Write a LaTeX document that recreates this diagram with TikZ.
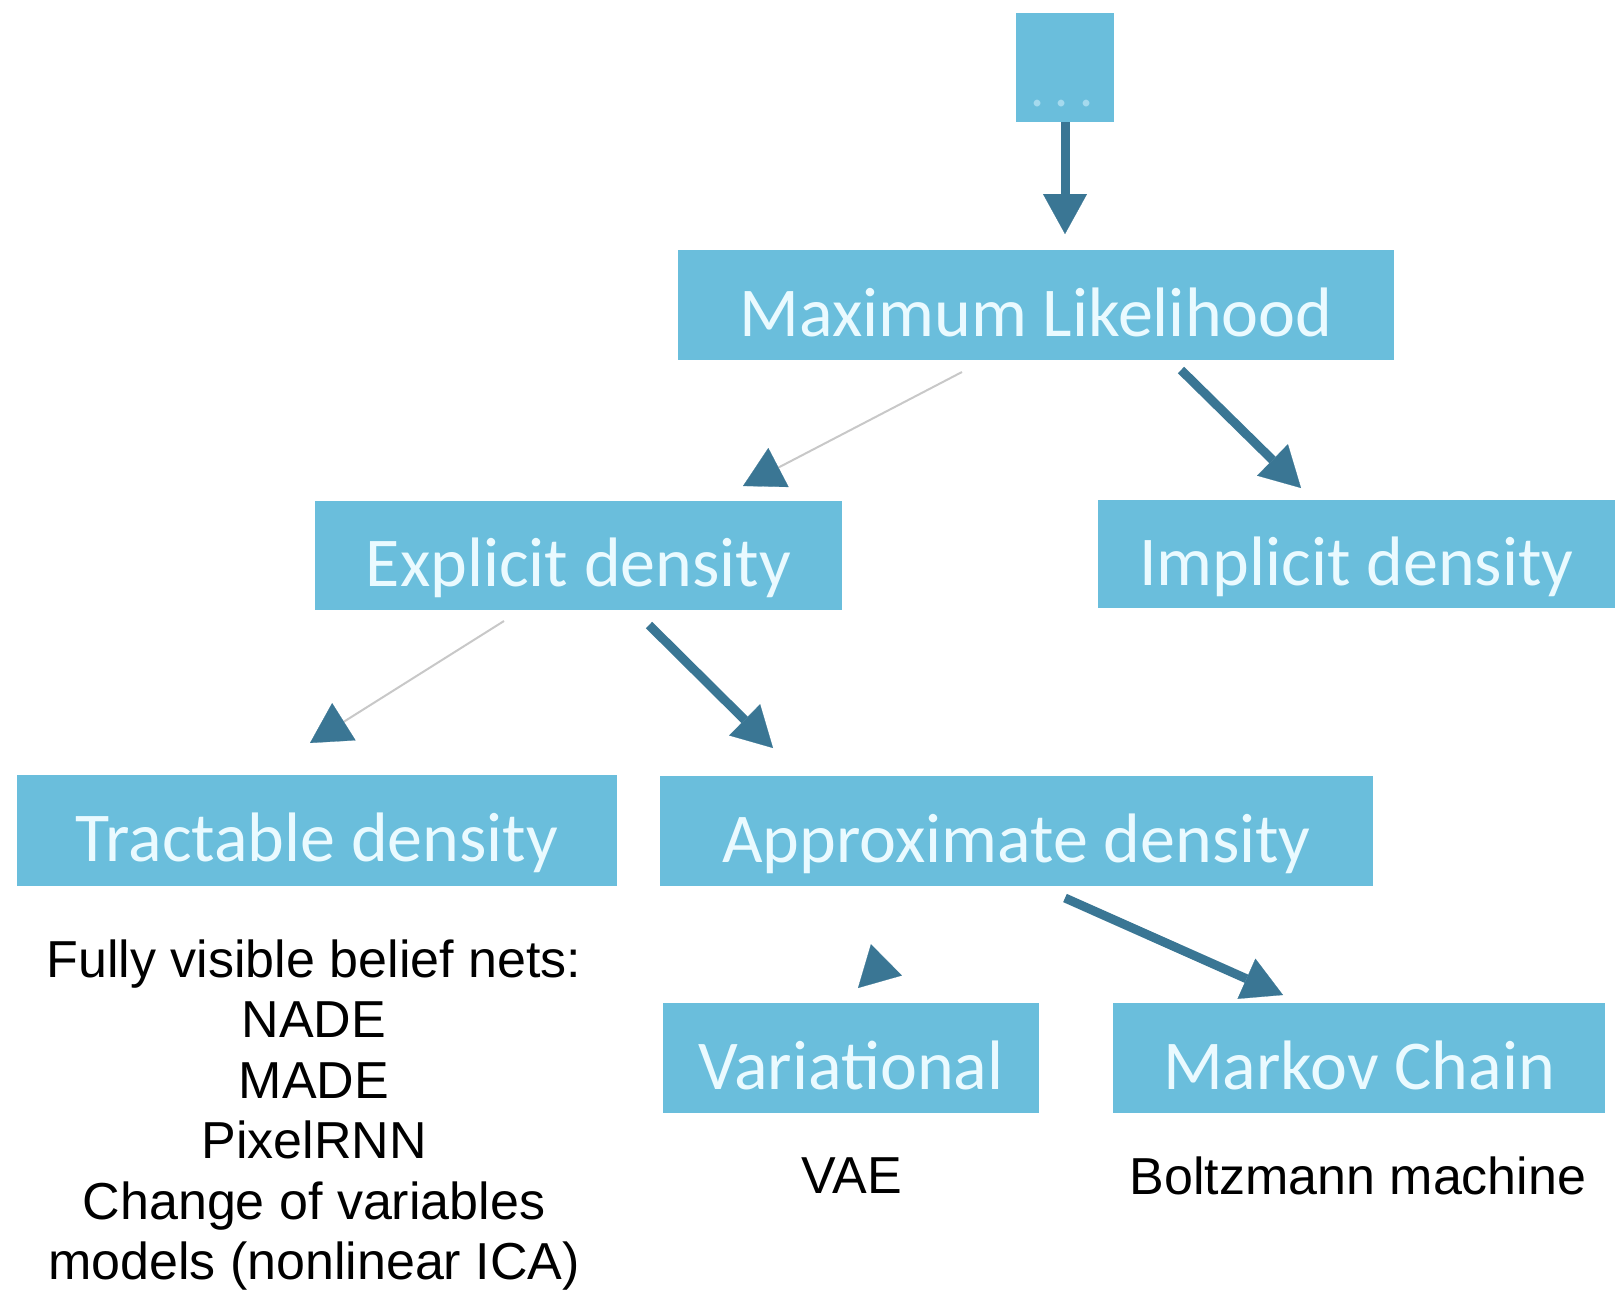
\documentclass[tikz,border=0pt]{standalone}
\usepackage{fontspec}
\setmainfont{Liberation Sans}
\newfontfamily\boxfont{Carlito}
\usetikzlibrary{arrows.meta}

\definecolor{boxfill}{RGB}{106,190,220}
\definecolor{boxtext}{RGB}{234,250,255}
\definecolor{dotcol}{RGB}{165,218,238}
\definecolor{arrowc}{RGB}{58,118,148}
\definecolor{thinline}{RGB}{200,200,200}

\tikzset{
  catbox/.style={fill=boxfill, draw=none, inner sep=0pt, align=center,
    font=\boxfont\fontsize{35pt}{40pt}\selectfont, text=boxtext,
    text height=31pt, text depth=0pt},
  plaintext/.style={inner sep=0pt, align=center, text=black,
    font=\fontsize{26pt}{30.2pt}\selectfont},
  headtip/.style={-{Triangle[length=20pt,width=22pt,color=arrowc,line width=0.1pt]}},
  strong/.style={headtip, draw=arrowc, line width=4.5pt},
  weak/.style={headtip, draw=thinline, line width=1pt},
  hidden/.style={headtip, draw=white, line width=1pt},
}

\begin{document}
\begin{tikzpicture}[x=0.5pt, y=-0.5pt]
  \useasboundingbox (0,0) rectangle (1622,1290);

  % category boxes
  \node[catbox, minimum width=49pt, minimum height=54.5pt] (top) at (1065,67.5) {};
  \node[font=\boxfont\fontsize{28pt}{28pt}\selectfont, text=dotcol, inner sep=0pt]
    (dots) at (1062,104) {.\hspace{5pt}.\hspace{5pt}.};
  \node[catbox, minimum width=358pt, minimum height=55pt] (ml) at (1036,305) {Maximum Likelihood};
  \node[catbox, minimum width=263.5pt, minimum height=54.5pt] (expl) at (578.5,555.5) {Explicit density};
  \node[catbox, minimum width=258.5pt, minimum height=54pt] (impl) at (1356.5,554) {Implicit density};
  \node[catbox, minimum width=300pt, minimum height=55.5pt] (tract) at (317,830.5) {Tractable density};
  \node[catbox, minimum width=356.5pt, minimum height=55pt] (appr) at (1016.5,831) {Approximate density};
  \node[catbox, minimum width=188pt, minimum height=55pt] (vari) at (851,1058) {Variational};
  \node[catbox, minimum width=246pt, minimum height=55pt] (mark) at (1359,1058) {Markov Chain};

  % example model lists
  \node[plaintext] (fvbn) at (314,1115) {Fully visible belief nets:\\NADE\\MADE\\PixelRNN\\Change of variables\\models (nonlinear ICA)};
  \node[plaintext] (vae) at (852,1176) {VAE};
  \node[plaintext] (boltz) at (1358,1176) {Boltzmann machine};

  % connector end points
  \coordinate (mlTip) at (1065,234);
  \coordinate (mlA) at (962,372);   \coordinate (explTip) at (743,486);
  \coordinate (mlB) at (1181,370);  \coordinate (implTip) at (1301,488);
  \coordinate (exA) at (504,621);   \coordinate (tractTip) at (310,743);
  \coordinate (exB) at (649,625);   \coordinate (apprTip) at (773,748);
  \coordinate (apA) at (955,892);   \coordinate (variTip) at (858,988);
  \coordinate (apB) at (1065,898);  \coordinate (markTip) at (1283,995);

  % connectors
  \draw[strong] (top.south) -- (mlTip);
  \draw[weak] (mlA) -- (explTip);
  \draw[strong] (mlB) -- (implTip);
  \draw[weak] (exA) -- (tractTip);
  \draw[strong] (exB) -- (apprTip);
  \draw[hidden] (apA) -- (variTip);
  \draw[strong] (apB) -- (markTip);
\end{tikzpicture}
\end{document}
